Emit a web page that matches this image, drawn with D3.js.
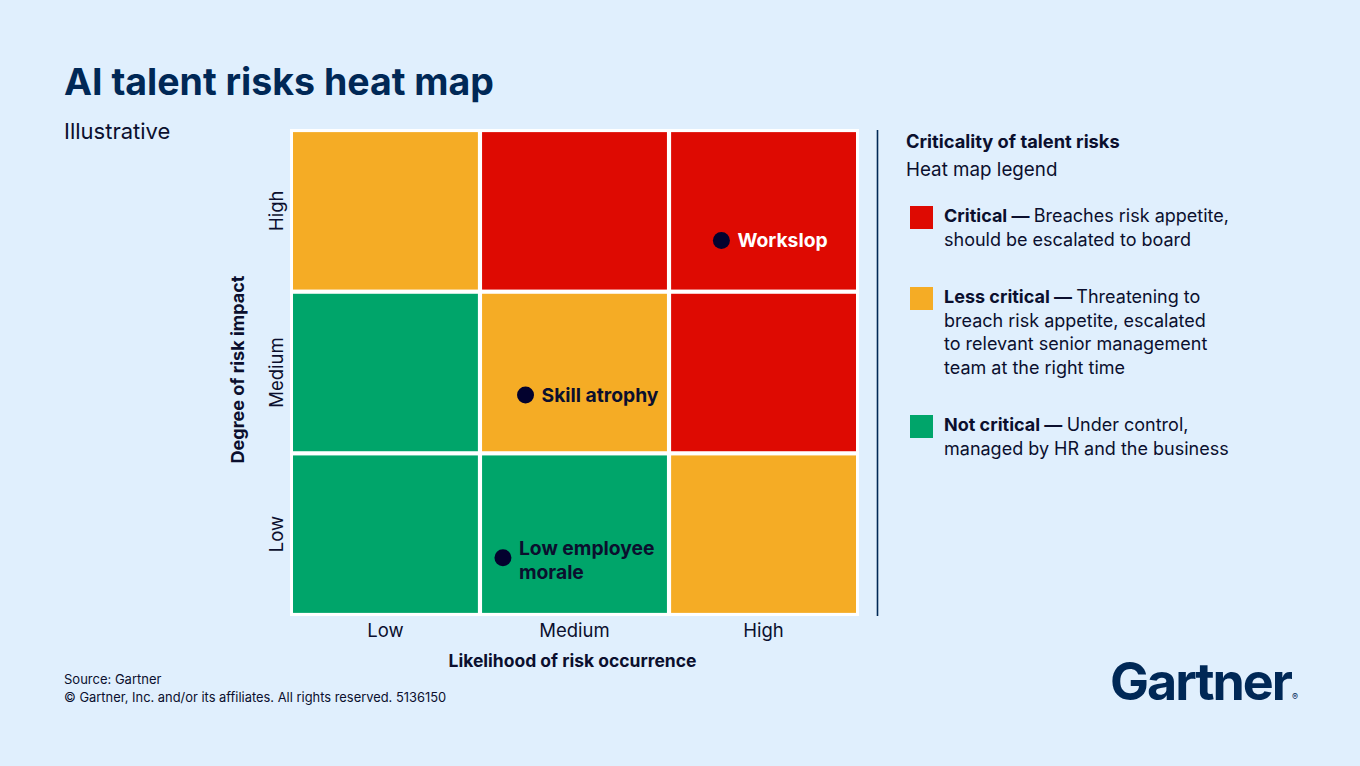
<!DOCTYPE html>
<html><head><meta charset="utf-8">
<script src="https://cdn.jsdelivr.net/npm/d3@7"></script>
<style>
html,body{margin:0;padding:0;background:#E0EFFD;}
svg{display:block;font-family:Inter,"Noto Sans",sans-serif;}
</style></head>
<body><svg id="c" width="1360" height="766"></svg>
<script>
// ---- data ----
const likelihoodLevels = ["Low", "Medium", "High"];
const impactLevels = ["Low", "Medium", "High"];
// criticality of each cell: [likelihood, impact, level]
const cellLikelihood = ["Low","Medium","High","Low","Medium","High","Low","Medium","High"];
const cellImpact     = ["High","High","High","Medium","Medium","Medium","Low","Low","Low"];
const cellLevel      = ["Less critical","Critical","Critical","Not critical","Less critical","Critical","Not critical","Not critical","Less critical"];
// risks (scores on 0-3 scale)
const riskNames = [["Workslop"], ["Skill atrophy"], ["Low employee", "morale"]];
const riskLikelihood = [2.28, 1.24, 1.12];
const riskImpact = [2.32, 1.36, 0.35];
// legend
const legendLevels = ["Critical", "Less critical", "Not critical"];
const legendTexts = [
  ["Breaches risk appetite,", "should be escalated to board"],
  ["Threatening to", "breach risk appetite, escalated", "to relevant senior management", "team at the right time"],
  ["Under control,", "managed by HR and the business"]
];

const navy = "#002856";
const ink = "#0B0F2E";
const color = d3.scaleOrdinal().domain(legendLevels).range(["#DE0A02", "#F5AC25", "#00A56A"]);

const svg = d3.select("#c");

// title
svg.append("text").attr("x", 64).attr("y", 95).attr("fill", navy)
  .attr("font-size", 37.5).attr("font-weight", 700).text("AI talent risks heat map");
svg.append("text").attr("x", 64).attr("y", 139).attr("fill", ink)
  .attr("font-size", 22).text("Illustrative");

// grid
const gx0 = 290, gx1 = 859, gy0 = 129, gy1 = 616;
const x = d3.scaleBand().domain(likelihoodLevels).range([gx0 + 1.5, gx1 - 1.5]).paddingInner(0.022).paddingOuter(0.008);
const y = d3.scaleBand().domain(impactLevels.slice().reverse()).range([gy0 + 1.5, gy1 - 1.5]).paddingInner(0.026).paddingOuter(0.01);
const xs = d3.scaleLinear().domain([0, 3]).range([gx0 + 2, gx1 - 2]);
const ys = d3.scaleLinear().domain([0, 3]).range([gy1 - 2, gy0 + 2]);

svg.append("rect").attr("x", gx0).attr("y", gy0).attr("width", gx1 - gx0).attr("height", gy1 - gy0).attr("fill", "#ffffff");

const cells = cellLevel.map((lv, i) => ({ lx: cellLikelihood[i], ly: cellImpact[i], level: lv }));
svg.append("g").selectAll("rect").data(cells).join("rect")
  .attr("x", d => x(d.lx)).attr("y", d => y(d.ly))
  .attr("width", x.bandwidth()).attr("height", y.bandwidth())
  .attr("fill", d => color(d.level));

// axes
const xAxis = svg.append("g").attr("transform", `translate(0,${gy1})`)
  .call(d3.axisBottom(x).tickSize(0).tickPadding(8));
xAxis.select(".domain").remove();
xAxis.selectAll("text").attr("font-size", 18.5).attr("fill", ink).attr("font-family", "Inter,'Noto Sans',sans-serif");

const yAxis = svg.append("g").attr("transform", `translate(${gx0},0)`)
  .call(d3.axisLeft(y).tickSize(0).tickPadding(0));
yAxis.select(".domain").remove();
yAxis.selectAll(".tick text").attr("font-size", 18.5).attr("fill", ink).attr("font-family", "Inter,'Noto Sans',sans-serif")
  .attr("text-anchor", "middle").attr("x", 0).attr("dy", 0)
  .attr("transform", "translate(-7,0) rotate(-90)");

svg.append("text").attr("x", (gx0 + gx1) / 2 - 2).attr("y", 667).attr("text-anchor", "middle")
  .attr("font-size", 17.5).attr("font-weight", 700).attr("fill", ink).text("Likelihood of risk occurrence");
svg.append("text").attr("transform", `translate(244,${(gy0 + gy1) / 2 - 3}) rotate(-90)`).attr("text-anchor", "middle")
  .attr("font-size", 18).attr("font-weight", 700).attr("fill", ink).text("Degree of risk impact");

// risks
const risks = riskNames.map((n, i) => ({ lines: n, lx: riskLikelihood[i], ly: riskImpact[i] }));
const rg = svg.append("g").selectAll("g").data(risks).join("g")
  .attr("transform", d => `translate(${xs(d.lx)},${ys(d.ly)})`);
rg.append("circle").attr("r", 8.5).attr("fill", "#03022E");
rg.each(function (d) {
  const cellLv = cells.find(c => c.lx === likelihoodLevels[Math.floor(d.lx)] && c.ly === impactLevels[Math.floor(d.ly)]).level;
  const t = d3.select(this).append("text").attr("x", 16).attr("font-size", 19.3).attr("font-weight", 700)
    .attr("fill", cellLv === "Critical" ? "#ffffff" : ink);
  const n = d.lines.length;
  d.lines.forEach((l, j) => {
    t.append("tspan").attr("x", 16).attr("y", (j - (n - 1) / 2) * 24 + (n > 1 ? 9 : 7)).text(l);
  });
});

// divider
svg.append("line").attr("x1", 877.5).attr("x2", 877.5).attr("y1", 130).attr("y2", 616)
  .attr("stroke", navy).attr("stroke-width", 1.6);

// legend
svg.append("text").attr("x", 906).attr("y", 148).attr("font-size", 18.3).attr("font-weight", 700).attr("fill", ink)
  .text("Criticality of talent risks");
svg.append("text").attr("x", 906).attr("y", 176).attr("font-size", 18.8).attr("fill", ink).text("Heat map legend");

const legendTop = [206, 287, 415];
const lg = svg.append("g").selectAll("g").data(legendLevels).join("g")
  .attr("transform", (d, i) => `translate(910,${legendTop[i]})`);
lg.append("rect").attr("width", 23).attr("height", 23).attr("fill", d => color(d));
lg.each(function (d, i) {
  const t = d3.select(this).append("text").attr("font-size", 18).attr("fill", ink);
  legendTexts[i].forEach((l, j) => {
    const ts = t.append("tspan").attr("x", 34).attr("y", 16 + j * 23.5);
    if (j === 0) {
      ts.append("tspan").attr("font-weight", 700).text(d + " \u2014 ");
      ts.append("tspan").text(l);
    } else ts.text(l);
  });
});

// footer
svg.append("text").attr("x", 64).attr("y", 684).attr("font-size", 13).attr("fill", ink).text("Source: Gartner");
svg.append("text").attr("x", 64).attr("y", 702).attr("font-size", 12.9).attr("fill", ink)
  .text("\u00A9 Gartner, Inc. and/or its affiliates. All rights reserved. 5136150");

// logo
svg.append("text").attr("x", 1110).attr("y", 700).attr("font-size", 52).attr("font-weight", 700)
  .attr("letter-spacing", -2).attr("fill", navy).text("Gartner");
svg.append("text").attr("x", 1292).attr("y", 700).attr("font-size", 9).attr("fill", navy).text("\u00AE");
</script></body></html>
